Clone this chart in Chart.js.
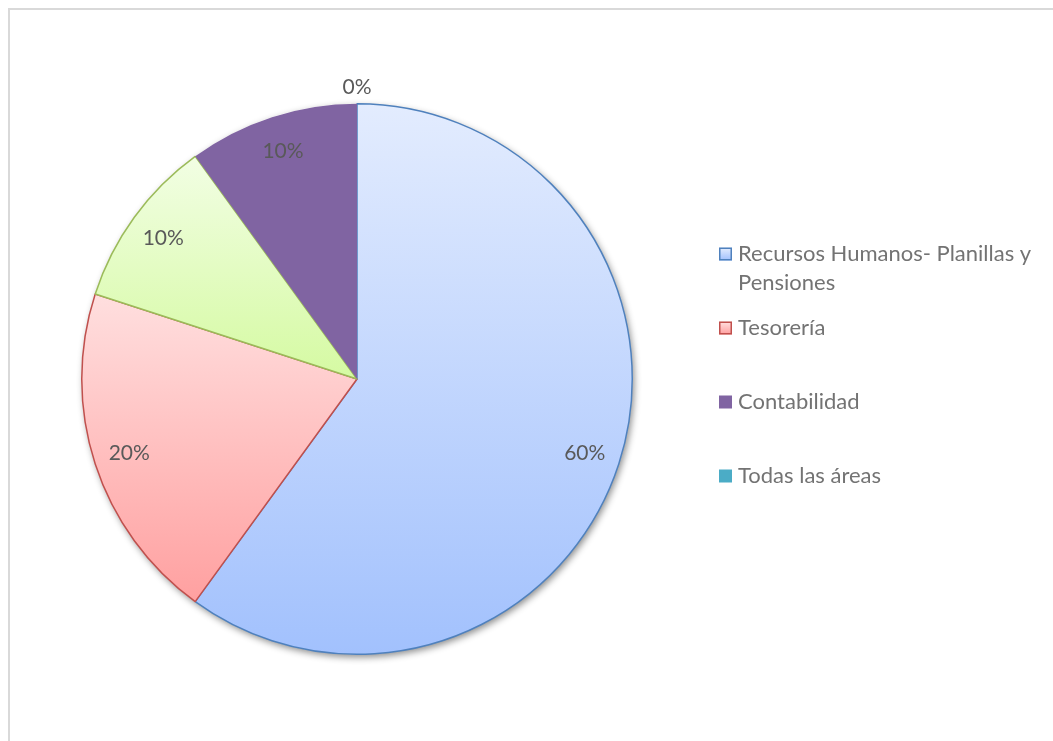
<!DOCTYPE html>
<html>
<head>
<meta charset="utf-8">
<script src="https://cdn.jsdelivr.net/npm/chart.js@4.4.0/dist/chart.umd.min.js"></script>
<style>
  body { margin: 0; background: #fff; overflow: hidden; }
  #frame { position: absolute; left: 8px; top: 8px; width: 1100px; height: 800px; border: 2px solid #d9d9d9; }
  #wrap { position: absolute; left: 0; top: 0; width: 1053px; height: 741px; }
</style>
</head>
<body>
<div id="frame"></div>
<div id="wrap"><canvas id="pie"></canvas></div>
<script>
// values
const areas = ['Recursos Humanos- Planillas y Pensiones', 'Tesorería', '', 'Contabilidad', 'Todas las áreas'];
const shares = [60, 20, 10, 10, 0];

const gradTop = ['#e3ecfe', '#ffdfdf', '#f2fee4', '#8064a2', '#4bacc6'];
const gradBottom = ['#a2c1fd', '#ffa0a0', '#d5faa2', '#8064a2', '#4bacc6'];
const edgeColors = ['#4f81bd', '#c0504d', '#9bbb59', '#8064a2', '#4bacc6'];
const edgeWidths = [1.5, 1.5, 1.5, 0, 0];

const FONT = 'Lato, "Open Sans", sans-serif';

// vertical extent of one slice, so each slice gets its own gradient
function sliceRange(area, i) {
  const cx = (area.left + area.right) / 2;
  const cy = (area.top + area.bottom) / 2;
  const r = Math.min(area.width, area.height) / 2;
  const total = shares.reduce((a, b) => a + b, 0);
  let before = 0;
  for (let k = 0; k < i; k++) before += shares[k];
  const a0 = -Math.PI / 2 + before / total * Math.PI * 2;
  const a1 = a0 + shares[i] / total * Math.PI * 2;
  const ys = [cy, cy + r * Math.sin(a0), cy + r * Math.sin(a1)];
  for (let t = -Math.PI / 2; t <= 2 * Math.PI; t += Math.PI) {
    if (t >= a0 && t <= a1) ys.push(cy + r * Math.sin(t));
  }
  return [Math.min(...ys), Math.max(...ys)];
}

function sliceFill(context) {
  const i = context.dataIndex;
  const area = context.chart.chartArea;
  if (!area || gradTop[i] === gradBottom[i]) return gradTop[i];
  const [y0, y1] = sliceRange(area, i);
  const g = context.chart.ctx.createLinearGradient(0, y0, 0, y1 === y0 ? y0 + 1 : y1);
  g.addColorStop(0, gradTop[i]);
  g.addColorStop(1, gradBottom[i]);
  return g;
}

// soft drop shadow under the pie
const pieShadow = {
  id: 'pieShadow',
  beforeDatasetsDraw(chart) {
    const arc = chart.getDatasetMeta(0).data[0];
    if (!arc) return;
    const ctx = chart.ctx;
    ctx.save();
    ctx.shadowColor = 'rgba(0,0,0,0.45)';
    ctx.shadowBlur = 7;
    ctx.shadowOffsetX = 2;
    ctx.shadowOffsetY = 3;
    ctx.fillStyle = '#ffffff';
    ctx.beginPath();
    ctx.arc(arc.x, arc.y, arc.outerRadius, 0, Math.PI * 2);
    ctx.fill();
    ctx.restore();
  }
};

// percentage labels on the slices
const pctLabels = {
  id: 'pctLabels',
  afterDatasetsDraw(chart) {
    const ctx = chart.ctx;
    const total = shares.reduce((a, b) => a + b, 0);
    ctx.save();
    ctx.font = '21px ' + FONT;
    ctx.fillStyle = '#595959';
    ctx.textAlign = 'center';
    ctx.textBaseline = 'middle';
    chart.getDatasetMeta(0).data.forEach((arc, i) => {
      const mid = (arc.startAngle + arc.endAngle) / 2;
      const r = shares[i] === 0 ? arc.outerRadius + 17 : arc.outerRadius * 0.87;
      const txt = Math.round(shares[i] / total * 100) + '%';
      ctx.fillText(txt, arc.x + Math.cos(mid) * r, arc.y + Math.sin(mid) * r);
    });
    ctx.restore();
  }
};

// Excel-style legend at the right, long names wrapped
const sideLegend = {
  id: 'sideLegend',
  afterDraw(chart) {
    const ctx = chart.ctx;
    const x = 719, textX = 738, maxW = 306, lineH = 29, step = 74;
    let y = 254;
    ctx.save();
    ctx.font = '22px ' + FONT;
    ctx.textBaseline = 'middle';
    areas.forEach((name, i) => {
      if (!name) return;
      // wrap words
      const lines = [];
      let cur = '';
      name.split(' ').forEach(w => {
        const test = cur ? cur + ' ' + w : w;
        if (ctx.measureText(test).width > maxW && cur) { lines.push(cur); cur = w; }
        else cur = test;
      });
      lines.push(cur);

      const g = ctx.createLinearGradient(0, y - 6, 0, y + 6);
      g.addColorStop(0, gradTop[i]);
      g.addColorStop(1, gradBottom[i]);
      ctx.fillStyle = g;
      ctx.fillRect(x, y - 6.5, 13, 13);
      if (edgeWidths[i]) {
        ctx.strokeStyle = edgeColors[i];
        ctx.lineWidth = 1.5;
        ctx.strokeRect(x + 0.75, y - 5.75, 11.5, 11.5);
      }
      ctx.fillStyle = '#737373';
      lines.forEach((ln, k) => ctx.fillText(ln, textX, y + k * lineH));
      y += step;
    });
    ctx.restore();
  }
};

new Chart(document.getElementById('pie'), {
  type: 'pie',
  data: {
    labels: areas,
    datasets: [{
      data: shares,
      backgroundColor: sliceFill,
      borderColor: edgeColors,
      borderWidth: edgeWidths
    }]
  },
  options: {
    responsive: true,
    maintainAspectRatio: false,
    animation: false,
    layout: { padding: { left: 81, right: 420, top: 103, bottom: 86 } },
    plugins: {
      legend: { display: false },
      tooltip: { enabled: false }
    }
  },
  plugins: [pieShadow, pctLabels, sideLegend]
});
</script>
</body>
</html>
